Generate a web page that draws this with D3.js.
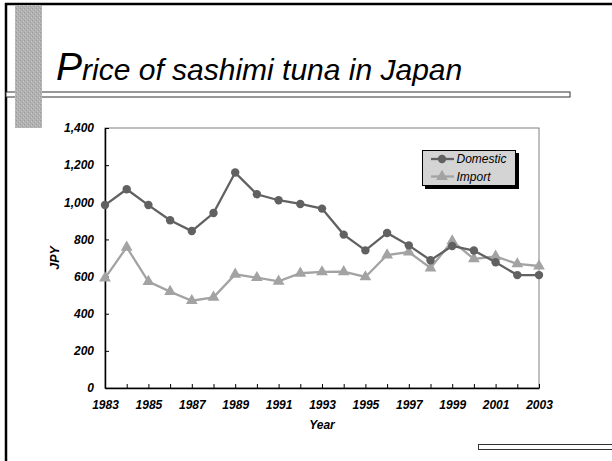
<!DOCTYPE html>
<html><head><meta charset="utf-8">
<script src="https://cdn.jsdelivr.net/npm/d3@7/dist/d3.min.js"></script>
<style>
body{margin:0;background:#fff}
svg{display:block}
text{font-family:"Liberation Sans",Arial,sans-serif}
</style>
</head><body>
<svg id="c" width="612" height="461"></svg>
<script>
const years = [1983,1984,1985,1986,1987,1988,1989,1990,1991,1992,1993,1994,1995,1996,1997,1998,1999,2000,2001,2002,2003];
const domestic = [985,1070,985,903,845,942,1160,1043,1011,991,966,826,741,835,768,688,765,740,677,608,608];
const importPrice = [592,758,573,519,470,488,612,594,574,618,625,626,598,716,732,646,791,695,709,668,657];
const yTickValues = [0,200,400,600,800,1000,1200,1400];
const xLabelYears = [1983,1985,1987,1989,1991,1993,1995,1997,1999,2001,2003];
const seriesNames = ["Domestic","Import"];
const titleFirst = "P";
const titleRest = "rice of sashimi tuna in Japan";

const svg = d3.select("#c");
const FONT = '"Liberation Sans",Arial,sans-serif';

// texture pattern for side bar
const defs = svg.append("defs");
const pat = defs.append("pattern").attr("id","tex").attr("width",4).attr("height",4).attr("patternUnits","userSpaceOnUse");
pat.append("rect").attr("width",4).attr("height",4).attr("fill","#b2b2b2");
pat.append("rect").attr("x",0).attr("y",0).attr("width",1).attr("height",1).attr("fill","#989898");
pat.append("rect").attr("x",2).attr("y",2).attr("width",1).attr("height",1).attr("fill","#a0a0a0");
pat.append("rect").attr("x",3).attr("y",1).attr("width",1).attr("height",1).attr("fill","#c6c6c6");
pat.append("rect").attr("x",1).attr("y",3).attr("width",1).attr("height",1).attr("fill","#c0c0c0");

// frame
svg.append("line").attr("x1",5).attr("x2",612).attr("y1",4).attr("y2",4).attr("stroke","#000").attr("stroke-width",2.5);
svg.append("line").attr("x1",6).attr("x2",6).attr("y1",3).attr("y2",461).attr("stroke","#000").attr("stroke-width",2.5);

// title double line
svg.append("rect").attr("x",6).attr("y",92).attr("width",564).attr("height",5).attr("fill","#fff").attr("stroke","#333").attr("stroke-width",1);
// bottom double line
svg.append("rect").attr("x",478.5).attr("y",444.5).attr("width",140).attr("height",5).attr("fill","#fff").attr("stroke","#333").attr("stroke-width",1);

// side bar
svg.append("rect").attr("x",15).attr("y",5).attr("width",27).attr("height",123).attr("fill","url(#tex)");

// title
const t = svg.append("text").attr("x",56).attr("y",80).attr("font-style","italic").attr("fill","#000");
t.append("tspan").attr("font-size",39).text(titleFirst);
t.append("tspan").attr("font-size",30).text(titleRest);

// chart
const L=105, R=539, T=128, B=388;
const x = d3.scaleLinear().domain([1983,2003]).range([L,R]);
const y = d3.scaleLinear().domain([0,1400]).range([B,T]);

svg.append("rect").attr("x",L).attr("y",T).attr("width",R-L).attr("height",B-T)
  .attr("fill","none").attr("stroke","#808080").attr("stroke-width",1);

const yAxis = svg.append("g").attr("transform",`translate(${L},0)`)
  .call(d3.axisLeft(y).tickValues(yTickValues).tickSizeInner(-4).tickSizeOuter(0).tickPadding(11).tickFormat(d3.format(",")));
const xAxis = svg.append("g").attr("transform",`translate(0,${B})`)
  .call(d3.axisBottom(x).tickValues(years).tickSizeInner(-4).tickSizeOuter(0).tickPadding(12)
    .tickFormat(d => xLabelYears.includes(d) ? String(d) : ""));
[yAxis,xAxis].forEach(g=>{
  g.selectAll("path").attr("stroke","#000").attr("stroke-width",1.5);
  g.selectAll("line").attr("stroke","#000").attr("stroke-width",1);
  g.selectAll("text").attr("font-family",FONT).attr("font-size",12).attr("font-weight","bold").attr("font-style","italic").attr("fill","#000");
});

svg.append("text").attr("x",(L+R)/2).attr("y",429).attr("text-anchor","middle")
  .attr("font-size",12).attr("font-weight","bold").attr("font-style","italic").text("Year");
svg.append("text").attr("transform",`translate(59,${(T+B)/2}) rotate(-90)`).attr("text-anchor","middle")
  .attr("font-size",12.5).attr("font-weight","bold").attr("font-style","italic").text("JPY");

const domColor = "#616161", impColor = "#a3a3a3";
const line = d3.line().x((d,i)=>x(years[i])).y(d=>y(d));
const tri = d3.symbol().type(d3.symbolTriangle).size(60);

svg.append("path").datum(importPrice).attr("d",line).attr("fill","none").attr("stroke",impColor).attr("stroke-width",2.3);
svg.append("g").selectAll("path").data(importPrice).join("path")
  .attr("d",tri).attr("transform",(d,i)=>`translate(${x(years[i])},${y(d)})`).attr("fill",impColor);

svg.append("path").datum(domestic).attr("d",line).attr("fill","none").attr("stroke",domColor).attr("stroke-width",2.3);
svg.append("g").selectAll("circle").data(domestic).join("circle")
  .attr("cx",(d,i)=>x(years[i])).attr("cy",d=>y(d)).attr("r",4.2).attr("fill",domColor);

// legend
const lg = svg.append("g");
lg.append("rect").attr("x",425).attr("y",153).attr("width",94).attr("height",36).attr("fill","#000");
lg.append("rect").attr("x",422.5).attr("y",150.5).attr("width",93).attr("height",35).attr("fill","#d4d4d4").attr("stroke","#000").attr("stroke-width",1);
const colors=[domColor,impColor];
seriesNames.forEach((n,i)=>{
  const cy = 159 + i*17.5;
  lg.append("line").attr("x1",431).attr("x2",454).attr("y1",cy).attr("y2",cy).attr("stroke",colors[i]).attr("stroke-width",2.3);
  if(i===0) lg.append("circle").attr("cx",442).attr("cy",cy).attr("r",4.2).attr("fill",colors[i]);
  else lg.append("path").attr("d",tri).attr("transform",`translate(442,${cy})`).attr("fill",colors[i]);
  lg.append("text").attr("x",456.5).attr("y",cy+4.2).attr("font-size",12).attr("font-style","italic").attr("fill","#000").text(n);
});
</script>
</body></html>
